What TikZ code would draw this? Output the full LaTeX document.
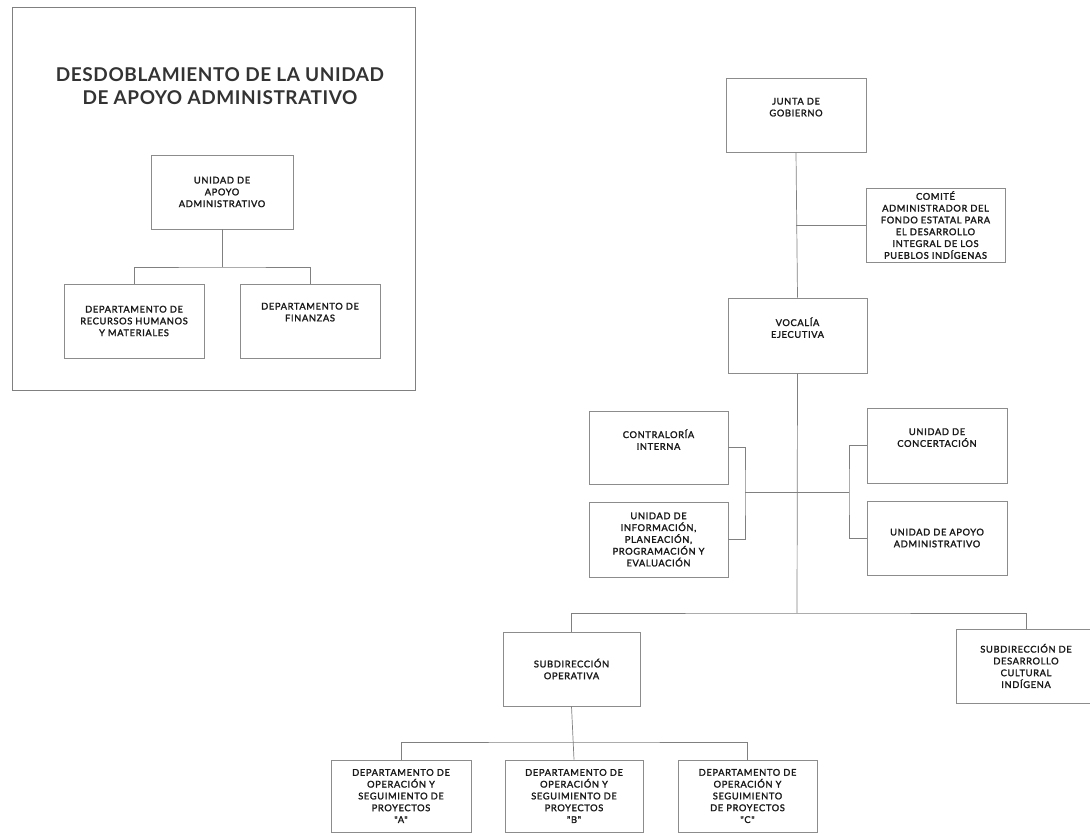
\documentclass[tikz,border=0pt]{standalone}
\usepackage{fontspec}
\setmainfont{Lato}
\newfontfamily\orgfont[LetterSpace=7,FakeBold=2]{Lato}
\newfontfamily\headfont[LetterSpace=3]{Lato}
\usetikzlibrary{positioning,calc}
\newcommand{\boxtext}{\orgfont\fontsize{9.3}{11.8}\selectfont}
\tikzset{
  orgbox/.style={draw=black!45, line width=0.7pt, align=center, inner sep=1pt,
    minimum width=140pt, minimum height=74pt, text=black!90, font=\boxtext},
  orgline/.style={draw=black!50, line width=0.7pt}
}

\begin{document}
\begin{tikzpicture}[x=1pt, y=-1pt]
  \useasboundingbox (0,0) rectangle (1090,834);
  % left panel
  \draw[orgline] (12,7) rectangle (415,390);
  \node[font=\headfont\bfseries\fontsize{19}{22.5}\selectfont, text=black!80, align=center]
    (title) at (220,86) {DESDOBLAMIENTO DE LA UNIDAD\\DE APOYO ADMINISTRATIVO};
  \node[orgbox, minimum width=142pt] (uaa) at (222,192) {UNIDAD DE\\APOYO\\ADMINISTRATIVO};
  \node[orgbox] (drh) at (134,321) {DEPARTAMENTO DE\\RECURSOS HUMANOS\\Y MATERIALES};
  \node[orgbox] (dfin) at (310,321) {DEPARTAMENTO DE\\FINANZAS\\[6pt]};
  \coordinate (lsplit) at (222,267);
  \draw[orgline] (uaa.south) -- (lsplit);
  \draw[orgline] (drh.north) |- (lsplit) -| (dfin.north);

  % right tree
  \node[orgbox] (junta) at (796,115) {JUNTA DE\\GOBIERNO\\[4pt]};
  \node[orgbox, minimum width=139pt] (comite) at (935.5,225)
    {COMITÉ\\ADMINISTRADOR DEL\\FONDO ESTATAL PARA\\EL DESARROLLO\\INTEGRAL DE LOS\\PUEBLOS INDÍGENAS};
  \node[orgbox, minimum width=139pt, minimum height=75pt] (vocal) at (797.5,335.5) {VOCALÍA\\EJECUTIVA\\[4pt]};
  \node[orgbox, minimum width=139pt, minimum height=73pt] (contra) at (658.5,447.5) {CONTRALORÍA\\INTERNA\\[4pt]};
  \node[orgbox, minimum width=139pt, minimum height=75pt] (uinfo) at (658.5,539.5)
    {UNIDAD DE\\INFORMACIÓN,\\PLANEACIÓN,\\PROGRAMACIÓN Y\\EVALUACIÓN};
  \node[orgbox, minimum height=75pt] (uconc) at (937,445.5) {UNIDAD DE\\CONCERTACIÓN\\[4pt]};
  \node[orgbox] (uapoyo) at (937,538) {UNIDAD DE APOYO\\ADMINISTRATIVO};
  \node[orgbox, minimum width=137pt] (subop) at (571.5,669) {SUBDIRECCIÓN\\OPERATIVA};
  \node[orgbox] (subcult) at (1026,666) {SUBDIRECCIÓN DE\\DESARROLLO\\CULTURAL\\INDÍGENA};
  \node[orgbox, minimum height=72pt] (depA) at (401,796)
    {DEPARTAMENTO DE\\OPERACIÓN Y\\SEGUIMIENTO DE\\PROYECTOS\\"A"};
  \node[orgbox, minimum width=138pt, minimum height=72pt] (depB) at (574,796)
    {DEPARTAMENTO DE\\OPERACIÓN Y\\SEGUIMIENTO DE\\PROYECTOS\\"B"};
  \node[orgbox, minimum width=139pt, minimum height=72pt] (depC) at (747.5,796)
    {DEPARTAMENTO DE\\OPERACIÓN Y\\SEGUIMIENTO\\DE PROYECTOS\\"C"};

  \coordinate (lbr) at (745,492);
  \coordinate (rbr) at (849,492);
  \coordinate (bsplit) at (797,613);
  \coordinate (dsplit) at (574,742);
  \draw[orgline] (junta.south) -- (vocal.north);
  \draw[orgline] (comite.west) -- (comite.west -| junta.south);
  \draw[orgline] (vocal.south) -- (bsplit);
  \draw[orgline] (contra.east) -| (lbr) |- (uinfo.east);
  \draw[orgline] (uconc.west) -| (rbr) |- (uapoyo.west);
  \draw[orgline] (lbr) -- (rbr);
  \draw[orgline] (subop.north) |- (bsplit) -| (subcult.north);
  \draw[orgline] (subop.south) -- (depB.north);
  \draw[orgline] (depA.north) |- (dsplit) -| (depC.north);
\end{tikzpicture}
\end{document}
